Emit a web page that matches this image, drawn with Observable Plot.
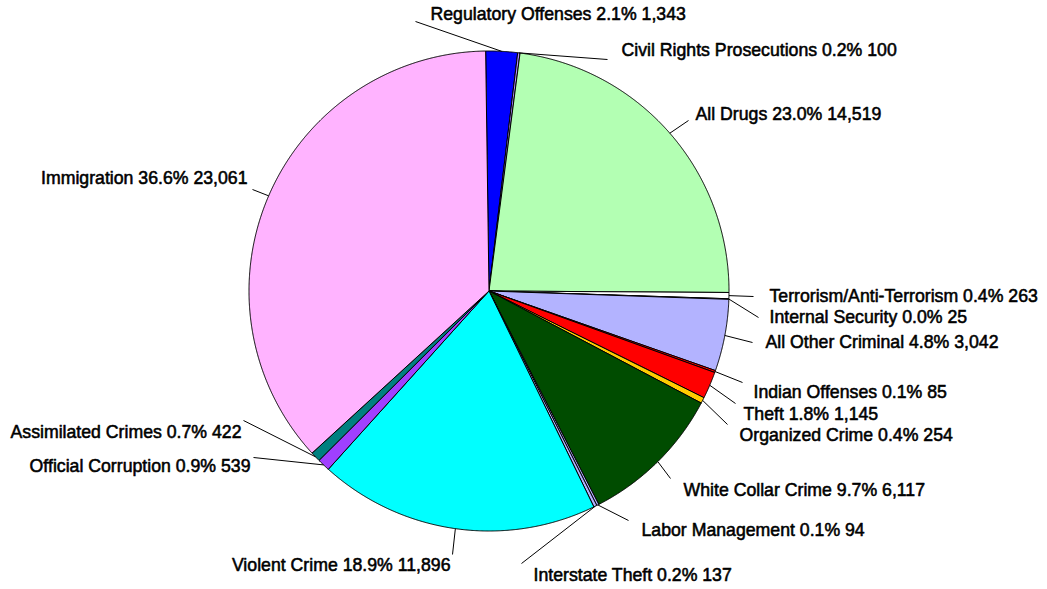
<!DOCTYPE html>
<html><head><meta charset="utf-8">
<script src="https://cdn.jsdelivr.net/npm/d3@7"></script>
<script src="https://cdn.jsdelivr.net/npm/@observablehq/plot@0.6"></script>
<style>html,body{margin:0;padding:0;background:#fff}#chart{width:1047px;height:589px}</style>
</head><body><div id="chart"></div>
<script>
// ---- data (clockwise from just left of 12 o'clock) ----
const categories = ["Regulatory Offenses","Civil Rights Prosecutions","All Drugs","Terrorism/Anti-Terrorism","Internal Security","All Other Criminal","Indian Offenses","Theft","Organized Crime","White Collar Crime","Labor Management","Interstate Theft","Violent Crime","Official Corruption","Assimilated Crimes","Immigration"];
const counts = [1343,100,14519,263,25,3042,85,1145,254,6117,94,137,11896,539,422,23061];
const sliceColors = ["#0000ff","#b08cff","#b3ffb3","#ffffff","#ffffff","#b3b3ff","#ff0000","#ff0000","#ffcc00","#004c00","#b3b3ff","#b3b3ff","#00ffff","#a040ff","#008080","#ffb3ff"];

// ---- layout (pixels) ----
const W = 1047, H = 589;
const CX = 488.5, CY = 290.5, R = 240, START = -0.8;
// text x, text y (middle), anchor, leader end x, leader end y
const labelLayout = [
  [430, 14, "start", 415, 21],
  [621, 50, "start", 607, 59],
  [695, 114, "start", 688, 120],
  [769, 296, "start", 753, 296],
  [769, 317, "start", 758, 317],
  [765, 342, "start", 752, 342],
  [753, 392, "start", 742, 382],
  [743, 414, "start", 735, 403],
  [739, 435, "start", 727, 424],
  [683, 490, "start", 670, 478],
  [641, 530, "start", 628, 520],
  [533, 575, "start", 521, 563],
  [450, 565, "end", 452, 554],
  [250, 466, "end", 253, 457],
  [241, 432, "end", 243, 420],
  [247, 178, "end", 252, 189]
];

const total = d3.sum(counts);
const fmt = d3.format(",");
let cum = 0;
const slices = categories.map((name, i) => {
  const a0 = START + cum / total * 360;
  cum += counts[i];
  const a1 = START + cum / total * 360;
  return {name, value: counts[i], a0, a1, mid: (a0 + a1) / 2};
});
const pt = (deg, r) => [CX + r * Math.sin(deg * Math.PI / 180), CY - r * Math.cos(deg * Math.PI / 180)];

const poly = slices.flatMap(s => {
  const n = Math.max(2, Math.ceil((s.a1 - s.a0) / 0.2));
  const pts = [{name: s.name, x: CX, y: CY}];
  for (let k = 0; k <= n; k++) {
    const [x, y] = pt(s.a0 + (s.a1 - s.a0) * k / n, R);
    pts.push({name: s.name, x, y});
  }
  pts.push({name: s.name, x: CX, y: CY});
  return pts;
});

const labels = slices.map((s, i) => {
  const [lx, ly, anchor, ex, ey] = labelLayout[i];
  const [sx, sy] = pt(s.mid, R);
  return {
    text: `${s.name} ${(s.value / total * 100).toFixed(1)}% ${fmt(s.value)}`,
    x: lx, y: ly, anchor, x1: sx, y1: sy, x2: ex, y2: ey
  };
});

const font = "'Liberation Sans', Arial, sans-serif";
const textOpts = {x: "x", y: "y", text: "text", fontSize: 17.7, fill: "black", stroke: "black", strokeWidth: 0.55};
const chart = Plot.plot({
  width: W, height: H,
  margin: 0,
  x: {domain: [0, W], range: [0, W], axis: null},
  y: {domain: [0, H], range: [0, H], axis: null},
  color: {domain: categories, range: sliceColors},
  style: {background: "#fff", fontFamily: font},
  marks: [
    Plot.line(poly, {x: "x", y: "y", z: "name", fill: "name", stroke: "black", strokeWidth: 1, strokeLinejoin: "round"}),
    Plot.link(labels, {x1: "x1", y1: "y1", x2: "x2", y2: "y2", stroke: "black", strokeWidth: 1}),
    Plot.text(labels.filter(d => d.anchor === "start"), {...textOpts, textAnchor: "start"}),
    Plot.text(labels.filter(d => d.anchor === "end"), {...textOpts, textAnchor: "end"})
  ]
});
document.getElementById("chart").appendChild(chart);
</script>
</body></html>
